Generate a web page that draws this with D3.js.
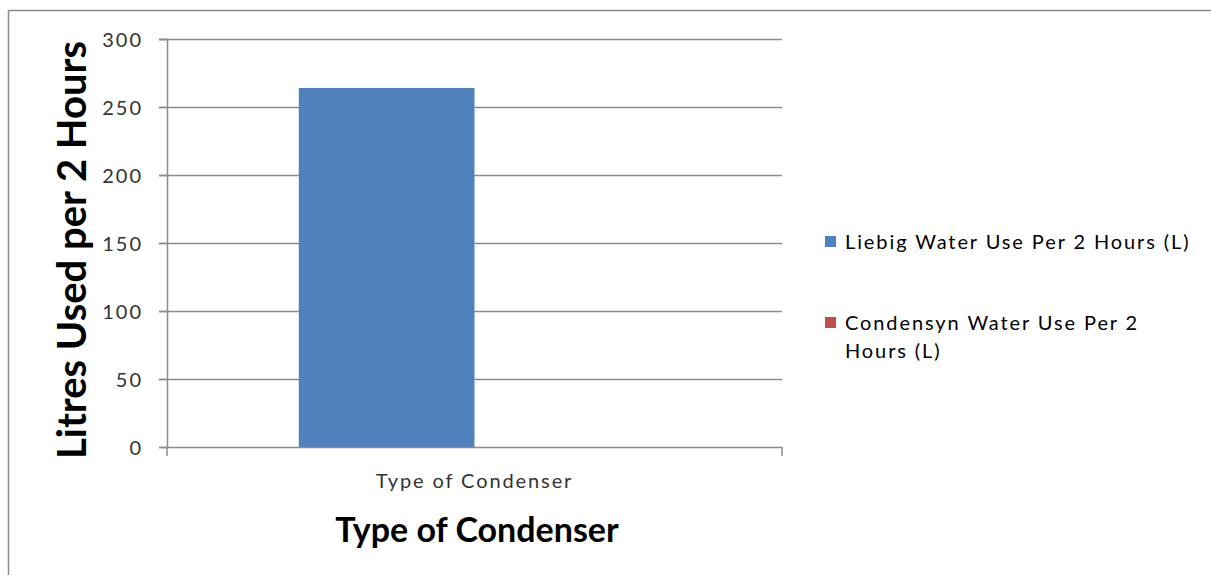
<!DOCTYPE html>
<html>
<head>
<meta charset="utf-8">
<script src="https://cdn.jsdelivr.net/npm/d3@7"></script>
<style>
  html, body { margin: 0; padding: 0; background: #fff; }
  svg { display: block; font-family: Lato, "Open Sans", sans-serif; }
</style>
</head>
<body>
<svg id="chart" width="1211" height="575"></svg>
<script>
const categories = ["Type of Condenser"]
const seriesNames = ["Liebig Water Use Per 2 Hours (L)", "Condensyn Water Use Per 2 Hours (L)"]
const liebigValues = [264]
const condensynValues = [0]
const yTicks = [0, 50, 100, 150, 200, 250, 300]
const colors = ["#4F81BD", "#C0504D"]

const svg = d3.select("#chart")

// outer frame (only top/left visible in the shot)
svg.append("rect")
    .attr("x", 8.5).attr("y", 10.5)
    .attr("width", 1230).attr("height", 600)
    .attr("fill", "none")
    .attr("stroke", "#8c8c8c")
    .attr("stroke-width", 1.5)

const plotLeft = 167, plotRight = 782, plotTop = 39, plotBottom = 447

const x = d3.scaleBand().domain(categories).range([plotLeft, plotRight])
const y = d3.scaleLinear().domain([0, 300]).range([plotBottom, plotTop])

// clustered bars: gap width 150%
const inner = d3.scaleBand().domain(seriesNames)
    .range([0, x.bandwidth()]).paddingOuter(0.75).paddingInner(0)

const grid = svg.append("g")
grid.selectAll("line")
    .data(yTicks.filter(t => t > 0))
    .join("line")
    .attr("x1", plotLeft - 8).attr("x2", plotRight)
    .attr("y1", d => y(d) + 0.5).attr("y2", d => y(d) + 0.5)
    .attr("stroke", "#8c8c8c")
    .attr("stroke-width", 1.5)

const rows = categories.map((c, i) => ({ cat: c, values: [liebigValues[i], condensynValues[i]] }))

svg.append("g").selectAll("g")
    .data(rows)
    .join("g")
    .attr("transform", d => `translate(${x(d.cat)},0)`)
    .selectAll("rect")
    .data(d => d.values.map((v, j) => ({ name: seriesNames[j], v, j })))
    .join("rect")
    .attr("x", d => inner(d.name))
    .attr("width", inner.bandwidth())
    .attr("y", d => y(d.v))
    .attr("height", d => plotBottom - y(d.v))
    .attr("fill", d => colors[d.j])

// y axis
const yAxis = svg.append("g")
    .attr("transform", `translate(${plotLeft},0)`)
    .call(d3.axisLeft(y).tickValues(yTicks).tickSize(8).tickPadding(16))
    .attr("font-family", null)
    .attr("font-size", null)
yAxis.select(".domain").attr("stroke", "#8c8c8c").attr("stroke-width", 1.5)
yAxis.selectAll(".tick line").attr("stroke", "#8c8c8c").attr("stroke-width", 1.5)
yAxis.selectAll(".tick text")
    .attr("fill", "#333")
    .style("font-size", "20px")
    .style("letter-spacing", "2px")
    .attr("dy", "0.36em")

// x axis
const xAxis = svg.append("g")
    .attr("transform", `translate(0,${plotBottom})`)
    .call(d3.axisBottom(x).tickSize(0).tickPadding(27))
    .attr("font-family", null)
    .attr("font-size", null)
xAxis.select(".domain").attr("stroke", "#8c8c8c").attr("stroke-width", 1.5)
xAxis.selectAll(".tick text")
    .attr("fill", "#333")
    .style("font-size", "20px")
    .style("letter-spacing", "1.9px")

// end ticks of x axis
svg.append("g").selectAll("line")
    .data([plotLeft, plotRight])
    .join("line")
    .attr("x1", d => d).attr("x2", d => d)
    .attr("y1", plotBottom).attr("y2", plotBottom + 9)
    .attr("stroke", "#8c8c8c")
    .attr("stroke-width", 1.5)

// axis titles
svg.append("text")
    .attr("x", 477)
    .attr("y", 542)
    .attr("text-anchor", "middle")
    .attr("font-weight", "bold")
    .attr("font-size", 34)
    .attr("fill", "#000")
    .text("Type of Condenser")

svg.append("text")
    .attr("transform", `translate(86,250) rotate(-90)`)
    .attr("text-anchor", "middle")
    .attr("font-weight", "bold")
    .attr("font-size", 40)
    .attr("fill", "#000")
    .text("Litres Used per 2 Hours")

// legend
const legendLines = [["Liebig Water Use Per 2 Hours (L)"], ["Condensyn Water Use Per 2", "Hours (L)"]]
const legendY = [249, 330]
const legend = svg.append("g")
legendLines.forEach((lines, i) => {
    legend.append("rect")
        .attr("x", 825).attr("y", legendY[i] - 13)
        .attr("width", 11).attr("height", 11)
        .attr("fill", colors[i])
    lines.forEach((t, k) => {
        legend.append("text")
            .attr("x", 845)
            .attr("y", legendY[i] + k * 28)
            .attr("font-size", 20)
            .attr("letter-spacing", "1.9px")
            .attr("fill", "#000")
            .text(t)
    })
})
</script>
</body>
</html>
